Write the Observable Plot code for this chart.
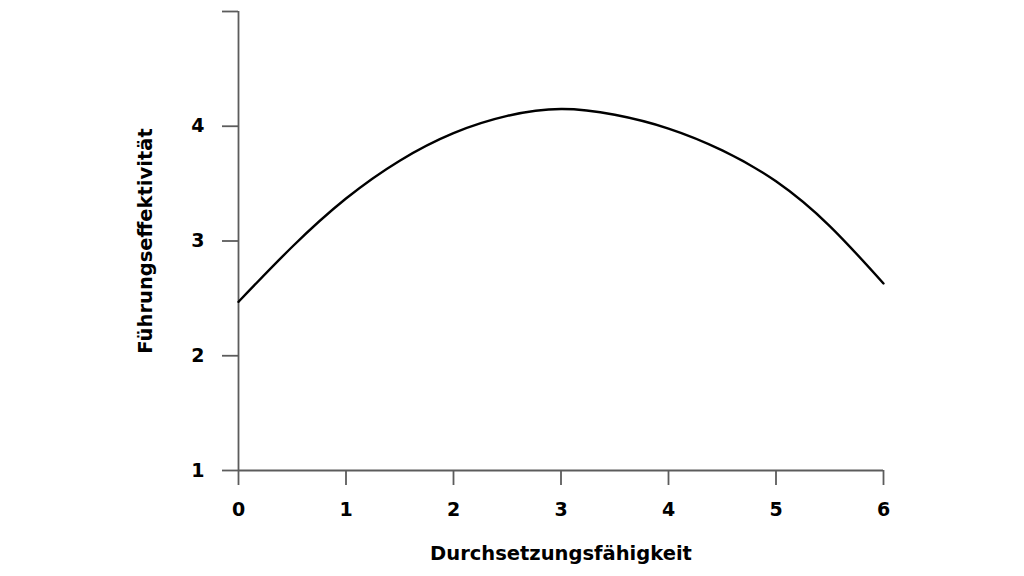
<!DOCTYPE html>
<html>
<head>
<meta charset="utf-8">
<script src="https://cdn.jsdelivr.net/npm/d3@7"></script>
<script src="https://cdn.jsdelivr.net/npm/@observablehq/plot@0.6"></script>
<style>
  html, body { margin: 0; padding: 0; background: #fff; }
  svg { display: block; }
</style>
</head>
<body>
<div id="chart"></div>
<script>
const xValues = [0, 0.5, 1, 1.5, 2, 2.5, 3, 3.5, 4, 4.5, 5, 5.5, 6];
const yValues = [2.47, 2.95, 3.37, 3.70, 3.94, 4.09, 4.15, 4.10, 3.98, 3.79, 3.52, 3.13, 2.63];
const xTicks = [0, 1, 2, 3, 4, 5, 6];
const yTicks = [1, 2, 3, 4, 5];
const yTickLabels = ["1", "2", "3", "4", ""];
const xLabel = "Durchsetzungsfähigkeit";
const yLabel = "Führungseffektivität";

const data = xValues.map((x, i) => ({x, y: yValues[i]}));
const axisColor = "#5c5c5c";
const font = "DejaVu Sans, sans-serif";

const chart = Plot.plot({
  width: 1024,
  height: 576,
  marginLeft: 238,
  marginRight: 141,
  marginTop: 11,
  marginBottom: 106,
  style: {fontFamily: font, fontWeight: "bold", fontSize: "19px", color: "#000", background: "#fff"},
  x: {domain: [0, 6]},
  y: {domain: [1, 5]},
  marks: [
    Plot.axisX(xTicks, {tickSize: 15, tickPadding: 17, stroke: axisColor, strokeWidth: 1.8, fill: "#000", fontSize: 19, fontWeight: "bold", label: null}),
    Plot.axisY(yTicks, {tickSize: 16, tickPadding: 18, stroke: axisColor, strokeWidth: 1.8, fill: "#000", fontSize: 19, fontWeight: "bold", label: null,
      tickFormat: d => yTickLabels[yTicks.indexOf(d)]}),
    Plot.ruleX([0], {stroke: axisColor, strokeWidth: 1.8}),
    Plot.ruleY([1], {stroke: axisColor, strokeWidth: 1.8}),
    Plot.line(data, {x: "x", y: "y", curve: "natural", stroke: "#000", strokeWidth: 2.4}),
    Plot.text([xLabel], {frameAnchor: "bottom", dy: 83, lineAnchor: "middle", textAnchor: "middle", fontSize: 19.5, fontWeight: "bold", fill: "#000"}),
    Plot.text([yLabel], {frameAnchor: "left", dx: -93, rotate: -90, lineAnchor: "middle", textAnchor: "middle", fontSize: 19.5, fontWeight: "bold", fill: "#000"})
  ]
});
document.getElementById("chart").appendChild(chart);
</script>
</body>
</html>
